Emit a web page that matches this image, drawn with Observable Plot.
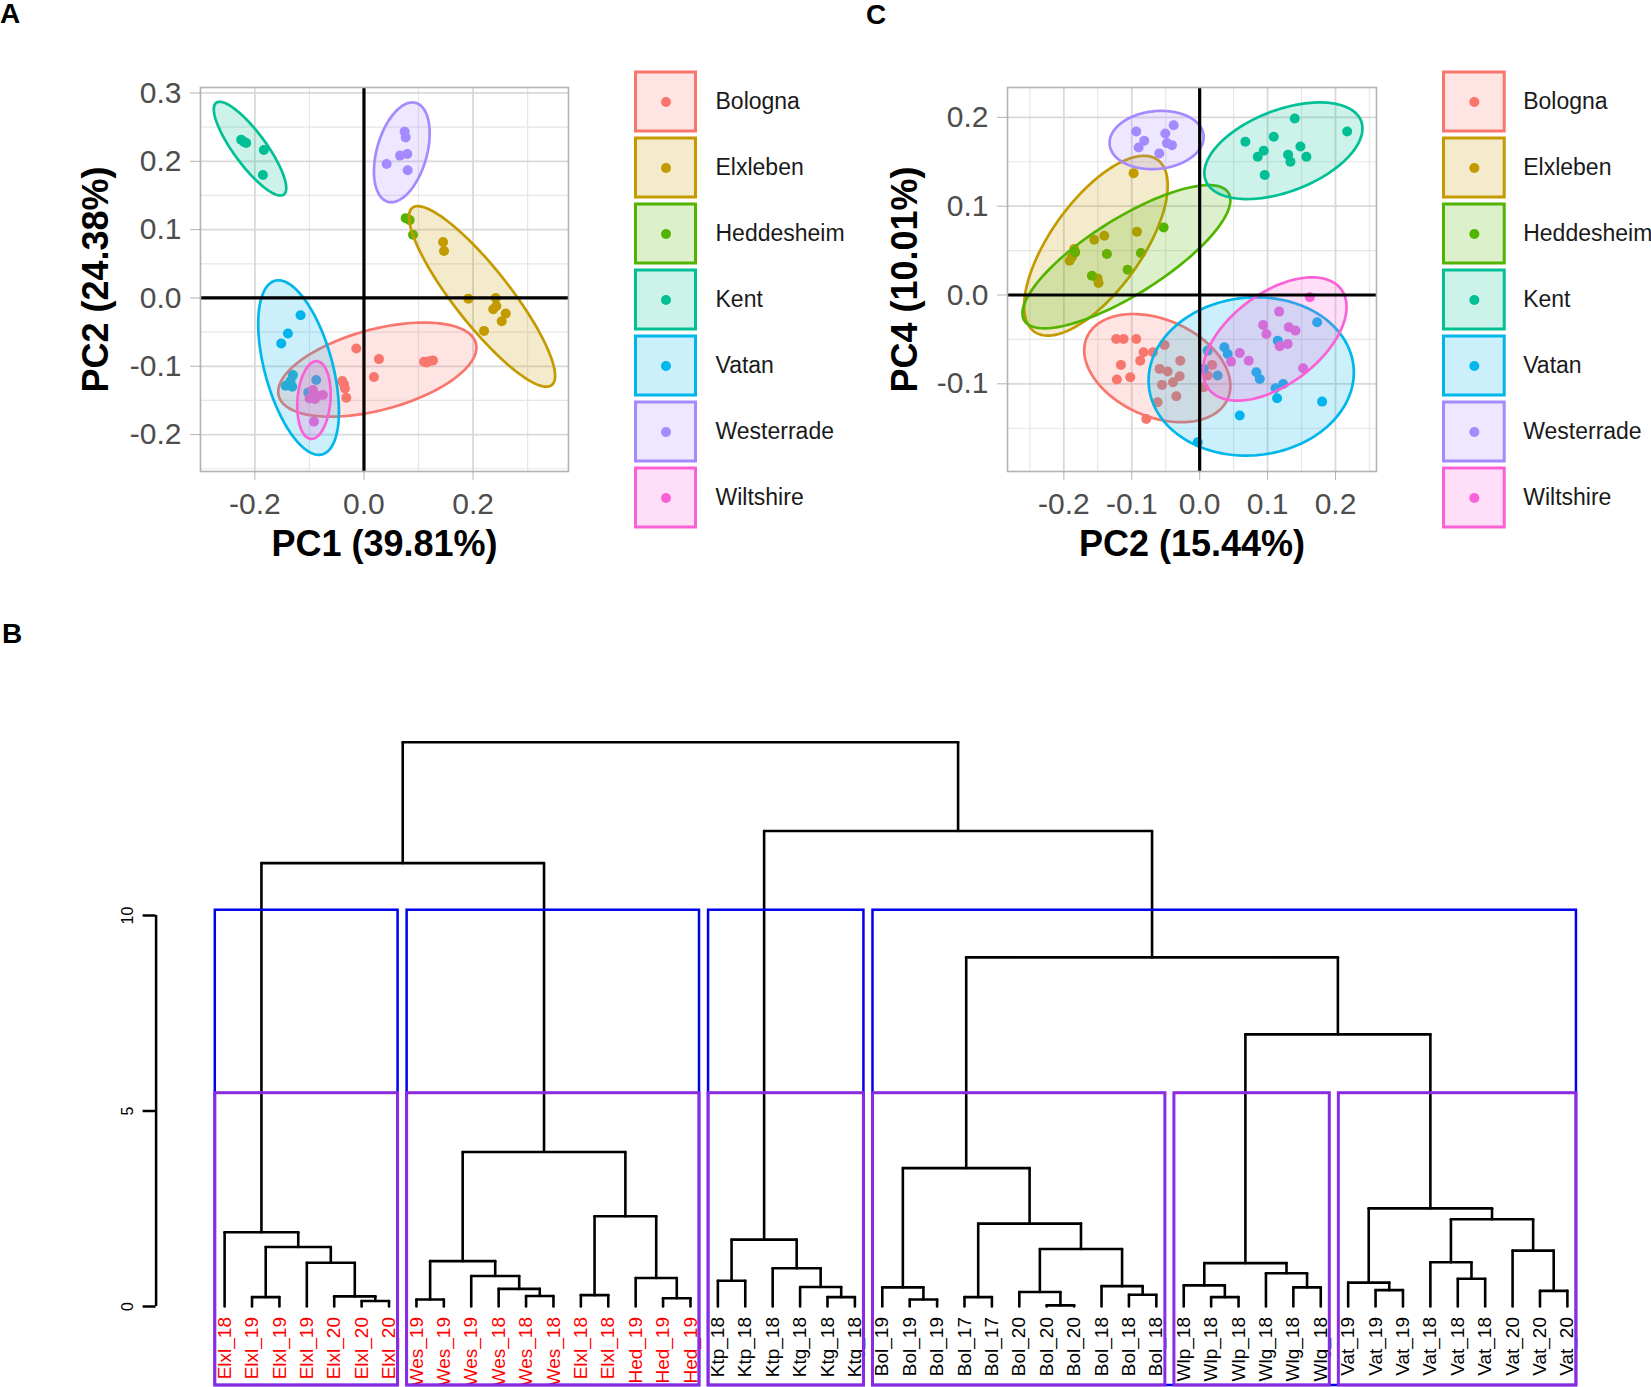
<!DOCTYPE html>
<html>
<head>
<meta charset="utf-8">
<script src="https://cdn.jsdelivr.net/npm/d3@7"></script>
<script src="https://cdn.jsdelivr.net/npm/@observablehq/plot@0.6"></script>
<style>
html,body{margin:0;padding:0;background:#fff;overflow:hidden}
#root{position:relative;width:1651px;height:1387px;font-family:"Liberation Sans",Arial,sans-serif;background:#fff}
.pl{position:absolute}
.panel-label{position:absolute;font-weight:bold;font-size:28px;line-height:28px;color:#000}
</style>
</head>
<body>
<div id="root">
  <div class="panel-label" style="left:0px;top:0px">A</div>
  <div class="panel-label" style="left:866px;top:1px">C</div>
  <div class="panel-label" style="left:2px;top:620px">B</div>
</div>
<script>
// ---------------- DATA ----------------
const groups = ["Bologna","Elxleben","Heddesheim","Kent","Vatan","Westerrade","Wiltshire"];
const groupColors = ["#F8766D","#C49A00","#53B400","#00C094","#00B6EB","#A58AFF","#FB61D7"];

// Panel A: PC1 vs PC2
const A_Bologna = [[-0.0141,-0.0740],[0.0275,-0.0895],[0.0183,-0.1158],[0.1101,-0.0934],[0.1193,-0.0925],[0.1266,-0.0915],[0.1150,-0.0945],[-0.0398,-0.1217],[-0.0349,-0.1324],[-0.0324,-0.1460],[-0.0367,-0.1265]];
const A_Elxleben = [[0.1450,0.0818],[0.1468,0.0686],[0.1914,-0.0010],[0.2416,0.0000],[0.2428,-0.0117],[0.2599,-0.0229],[0.2526,-0.0341],[0.2202,-0.0482],[0.2370,-0.0165]];
const A_Heddesheim = [[0.0765,0.1168],[0.0838,0.1139],[0.0899,0.0925]];
const A_Kent = [[-0.2251,0.2316],[-0.2202,0.2287],[-0.2159,0.2268],[-0.1835,0.2165],[-0.1853,0.1800]];
const A_Vatan = [[-0.1162,-0.0253],[-0.1394,-0.0521],[-0.1517,-0.0667],[-0.1303,-0.1129],[-0.1346,-0.1217],[-0.1437,-0.1285],[-0.1315,-0.1299],[-0.0875,-0.1202],[-0.1021,-0.1382]];
const A_Westerrade = [[0.0746,0.2433],[0.0765,0.2350],[0.0661,0.2083],[0.0795,0.2107],[0.0416,0.1961],[0.0801,0.1869]];
const A_Wiltshire = [[-0.0997,-0.1470],[-0.0936,-0.1348],[-0.0856,-0.1431],[-0.0752,-0.1421],[-0.0899,-0.1479],[-0.0917,-0.1810]];

// Panel A 95% ellipses: centre, half-extent in x and y, correlation
const ellA_group = ["Bologna","Elxleben","Kent","Vatan","Westerrade","Wiltshire"];
const ellA_cx = [0.0245, 0.2165, -0.2089, -0.1199, 0.0694, -0.0917];
const ellA_cy = [-0.1049, 0.0022, 0.2185, -0.1019, 0.2131, -0.1494];
const ellA_sx = [0.1817, 0.1339, 0.0664, 0.0740, 0.0511, 0.0306];
const ellA_sy = [0.0689, 0.1321, 0.0686, 0.1277, 0.0730, 0.0569];
const ellA_r  = [0.47, -0.88, -0.84, -0.50, 0.38, 0.15];

// Panel C: PC2 vs PC4
const C_Bologna = [[-0.1229,-0.0495],[-0.1120,-0.0495],[-0.0934,-0.0495],[-0.0826,-0.0645],[-0.0688,-0.0645],[-0.0875,-0.0739],[-0.0516,-0.0562],[-0.1160,-0.0787],[-0.1219,-0.0952],[-0.1022,-0.0926],[-0.0590,-0.0832],[-0.0472,-0.0862],[-0.0285,-0.0739],[-0.0295,-0.0915],[-0.0393,-0.0982],[-0.0555,-0.1012],[-0.0344,-0.1140],[-0.0619,-0.1207],[-0.0786,-0.1395],[0.0182,-0.0787],[0.0118,-0.0907],[0.0059,-0.1039]];
const C_Elxleben = [[-0.0973,0.1372],[-0.0924,0.0712],[-0.1553,0.0622],[-0.1405,0.0667],[-0.1848,0.0517],[-0.1882,0.0424],[-0.1916,0.0386],[-0.1504,0.0187],[-0.1489,0.0135]];
const C_Heddesheim = [[-0.0531,0.0761],[-0.0865,0.0472],[-0.1366,0.0461],[-0.1061,0.0285],[-0.1587,0.0217],[-0.1833,0.0480]];
const C_Kent = [[0.0673,0.1725],[0.1091,0.1781],[0.1400,0.1987],[0.2172,0.1841],[0.1484,0.1672],[0.1572,0.1556],[0.1302,0.1579],[0.1337,0.1500],[0.0943,0.1624],[0.0855,0.1556],[0.0958,0.1350]];
const C_Vatan = [[0.0118,-0.0626],[0.0364,-0.0589],[0.0413,-0.0664],[0.0265,-0.0907],[0.0835,-0.0870],[0.0885,-0.0945],[0.1150,-0.0514],[0.1140,-0.1162],[0.1229,-0.1001],[0.1115,-0.1050],[0.1730,-0.0307],[0.1803,-0.1200],[0.0590,-0.1357],[-0.0029,-0.1657],[0.0059,-0.0832]];
const C_Westerrade = [[-0.0934,0.1841],[-0.0816,0.1736],[-0.0899,0.1661],[-0.0506,0.1819],[-0.0383,0.1912],[-0.0482,0.1710],[-0.0408,0.1687],[-0.0595,0.1594]];
const C_Wiltshire = [[0.1622,-0.0026],[0.1170,-0.0187],[0.0934,-0.0337],[0.0983,-0.0439],[0.1312,-0.0364],[0.1410,-0.0401],[0.1179,-0.0577],[0.1297,-0.0551],[0.0590,-0.0652],[0.0722,-0.0739],[0.0462,-0.0750],[0.1523,-0.0825]];

const ellC_group = ["Bologna","Elxleben","Heddesheim","Kent","Vatan","Westerrade","Wiltshire"];
const ellC_cx = [-0.0624, -0.1528, -0.1079, 0.1233, 0.0759, -0.0634, 0.1106];
const ellC_cy = [-0.0823, 0.0555, 0.0431, 0.1624, -0.0917, 0.1745, -0.0495];
const ellC_sx = [0.1076, 0.1057, 0.1531, 0.1164, 0.1511, 0.0693, 0.1057];
const ellC_sy = [0.0609, 0.1012, 0.0806, 0.0544, 0.0891, 0.0328, 0.0694];
const ellC_r  = [-0.33, 0.67, 0.79, 0.46, 0.05, 0.10, 0.52];

// axis ticks
const A_xTicks = [-0.2, 0.0, 0.2];
const A_xMinor = [-0.3, -0.1, 0.1, 0.3];
const A_yTicks = [-0.2, -0.1, 0.0, 0.1, 0.2, 0.3];
const A_yMinor = [-0.25, -0.15, -0.05, 0.05, 0.15, 0.25];
const C_xTicks = [-0.2, -0.1, 0.0, 0.1, 0.2];
const C_xMinor = [-0.25, -0.15, -0.05, 0.05, 0.15, 0.25];
const C_yTicks = [-0.1, 0.0, 0.1, 0.2];
const C_yMinor = [-0.15, -0.05, 0.05, 0.15];
const A_xDomain = [-0.2997, 0.375], A_yDomain = [-0.254, 0.308];
const C_xDomain = [-0.283, 0.2604], C_yDomain = [-0.1987, 0.2336];
const A_xTitle = "PC1 (39.81%)", A_yTitle = "PC2 (24.38%)";
const C_xTitle = "PC2 (15.44%)", C_yTitle = "PC4 (10.01%)";

// Panel B: dendrogram (leaves in plotted order)
const leafLabels = ["Elxl_18","Elxl_19","Elxl_19","Elxl_19","Elxl_20","Elxl_20","Elxl_20",
  "Wes_19","Wes_19","Wes_19","Wes_18","Wes_18","Wes_18","Elxl_18","Elxl_18","Hed_19","Hed_19","Hed_19",
  "Ktp_18","Ktp_18","Ktp_18","Ktg_18","Ktg_18","Ktg_18",
  "Bol_19","Bol_19","Bol_19","Bol_17","Bol_17","Bol_20","Bol_20","Bol_20","Bol_18","Bol_18","Bol_18",
  "Wlp_18","Wlp_18","Wlp_18","Wlg_18","Wlg_18","Wlg_18",
  "Vat_19","Vat_19","Vat_19","Vat_18","Vat_18","Vat_18","Vat_20","Vat_20","Vat_20"];
// merges: negative = leaf (1-based position), positive = earlier merge (1-based)
const merges = [
  [-2,-3],[-6,-7],[-5,2],[-4,3],[1,4],[-1,5],
  [-8,-9],[-12,-13],[-11,8],[-10,9],[7,10],[-14,-15],[-17,-18],[-16,13],[12,14],[11,15],[6,16],
  [-19,-20],[-23,-24],[-22,19],[-21,20],[18,21],
  [-26,-27],[-25,23],[-28,-29],[-31,-32],[-30,26],[-34,-35],[-33,28],[27,29],[25,30],[24,31],
  [-37,-38],[-36,33],[-40,-41],[-39,35],[34,36],
  [-43,-44],[-42,38],[-46,-47],[-45,40],[-49,-50],[-48,42],[41,43],[39,44],
  [37,45],[32,46],[22,47],[17,48]];
const mergeHeights = [
  0.24,0.14,0.26,1.12,1.52,1.90,
  0.18,0.27,0.45,0.78,1.16,0.29,0.21,0.73,2.31,3.95,11.34,
  0.66,0.24,0.50,0.98,1.71,
  0.18,0.49,0.24,0.03,0.37,0.30,0.52,1.47,2.12,3.54,
  0.24,0.54,0.49,0.85,1.11,
  0.42,0.61,0.71,1.13,0.40,1.43,2.23,2.51,
  6.96,8.93,12.16,14.43];
const dendroTicks = [0, 5, 10];
const rectBaseline = -2.02;   // bottom of the plotting region (height units)
const cutK = [4, 6];
const cutColors = ["#0000EE", "#8A2BE2"];

// ---------------- HELPERS ----------------
const colorOf = Object.fromEntries(groups.map((g, i) => [g, groupColors[i]]));
const FONT = "Liberation Sans, Arial, Helvetica, sans-serif";
const baseStyle = {background: "transparent", overflow: "visible", fontFamily: FONT, maxWidth: "none"};

function ellipsePath(cx, cy, sx, sy, r) {
  const n = 160, q = Math.sqrt(1 - r * r);
  return d3.range(n).map(i => {
    const t = 2 * Math.PI * i / n;
    return [cx + sx * Math.cos(t), cy + sy * (r * Math.cos(t) + q * Math.sin(t))];
  });
}

function place(node, left, top) {
  node.classList.add("pl");
  node.style.left = left + "px";
  node.style.top = top + "px";
  document.getElementById("root").appendChild(node);
}

function scatterPanel(cfg) {
  const marks = [
    Plot.gridX({ticks: cfg.xMinor, stroke: "#e6e6e6", strokeOpacity: 1, strokeWidth: 1.2}),
    Plot.gridY({ticks: cfg.yMinor, stroke: "#e6e6e6", strokeOpacity: 1, strokeWidth: 1.2}),
    Plot.gridX({ticks: cfg.xGrid, stroke: "#d9d9d9", strokeOpacity: 1, strokeWidth: 1.8}),
    Plot.gridY({ticks: cfg.yTicks, stroke: "#d9d9d9", strokeOpacity: 1, strokeWidth: 1.8})
  ];
  groups.forEach(g => {
    const pts = cfg.points[g];
    if (pts) marks.push(Plot.dot(pts, {x: d => d[0], y: d => d[1], r: 5, fill: colorOf[g], stroke: null}));
  });
  cfg.ell.group.forEach((g, i) => {
    const path = ellipsePath(cfg.ell.cx[i], cfg.ell.cy[i], cfg.ell.sx[i], cfg.ell.sy[i], cfg.ell.r[i]);
    marks.push(Plot.line(path, {x: d => d[0], y: d => d[1], curve: "linear-closed",
      stroke: colorOf[g], strokeWidth: 2.7, fill: colorOf[g], fillOpacity: 0.2}));
  });
  marks.push(
    Plot.ruleX([0], {stroke: "black", strokeWidth: 3.2}),
    Plot.ruleY([0], {stroke: "black", strokeWidth: 3.2}),
    Plot.frame({stroke: "#b3b3b3", strokeWidth: 1.6}),
    Plot.axisX({ticks: cfg.xTicks, tickFormat: d => d.toFixed(1), fontSize: 30, tickSize: 9,
      tickPadding: 12, stroke: "#b3b3b3", fill: "#4d4d4d", label: null}),
    Plot.axisY({ticks: cfg.yTicks, tickFormat: d => d.toFixed(1), fontSize: 30, tickSize: 10,
      tickPadding: 9, stroke: "#b3b3b3", fill: "#4d4d4d", label: null}),
    Plot.text([cfg.xTitle], {text: d => d, frameAnchor: "bottom", dy: 72.5, fontSize: 36,
      fontWeight: "bold", fill: "black", textAnchor: "middle", lineAnchor: "middle"}),
    Plot.text([cfg.yTitle], {text: d => d, frameAnchor: "left", dx: cfg.yTitleDx, rotate: -90,
      fontSize: 36, fontWeight: "bold", fill: "black", textAnchor: "middle", lineAnchor: "middle"})
  );
  return Plot.plot({
    width: cfg.width, height: cfg.height,
    marginLeft: cfg.marginLeft, marginRight: cfg.marginRight,
    marginTop: cfg.marginTop, marginBottom: cfg.marginBottom,
    x: {domain: cfg.xDomain}, y: {domain: cfg.yDomain},
    style: baseStyle, marks
  });
}

function legendPanel(cfg) {
  return Plot.plot({
    width: cfg.width, height: 480,
    marginLeft: cfg.marginLeft, marginRight: cfg.marginRight, marginTop: 0, marginBottom: 0,
    x: {domain: [0, 1], axis: null},
    y: {type: "band", domain: groups, range: [68.7, 68.7 + 7 * 66], paddingInner: 0.106, paddingOuter: 0.053, axis: null},
    color: {domain: groups, range: groupColors},
    style: baseStyle,
    marks: [
      Plot.barX(groups, {x1: 0, x2: 1, y: d => d, fill: d => d, fillOpacity: 0.2, stroke: d => d, strokeWidth: 3}),
      Plot.dot(groups, {x: 0.5, y: d => d, r: 5, fill: d => d, stroke: null}),
      Plot.text(groups, {x: 1, y: d => d, text: d => d, textAnchor: "start", dx: cfg.textDx, fontSize: 23, fill: "#1a1a1a"})
    ]
  });
}

// ---------------- PANEL A ----------------
place(scatterPanel({
  width: 580, height: 575, marginLeft: 200, marginRight: 12, marginTop: 87, marginBottom: 104,
  xDomain: A_xDomain, yDomain: A_yDomain,
  xTicks: A_xTicks, xGrid: A_xTicks, xMinor: A_xMinor, yTicks: A_yTicks, yMinor: A_yMinor,
  xTitle: A_xTitle, yTitle: A_yTitle, yTitleDx: -104,
  points: {Bologna: A_Bologna, Elxleben: A_Elxleben, Heddesheim: A_Heddesheim, Kent: A_Kent,
           Vatan: A_Vatan, Westerrade: A_Westerrade, Wiltshire: A_Wiltshire},
  ell: {group: ellA_group, cx: ellA_cx, cy: ellA_cy, sx: ellA_sx, sy: ellA_sy, r: ellA_r}
}), 0, 0);
place(legendPanel({width: 240, marginLeft: 15.5, marginRight: 164.5, textDx: 19.5}), 620, 0);

// ---------------- PANEL C ----------------
place(scatterPanel({
  width: 540, height: 575, marginLeft: 167, marginRight: 4, marginTop: 87, marginBottom: 104,
  xDomain: C_xDomain, yDomain: C_yDomain,
  xTicks: C_xTicks, xGrid: C_xTicks, xMinor: C_xMinor, yTicks: C_yTicks, yMinor: C_yMinor,
  xTitle: C_xTitle, yTitle: C_yTitle, yTitleDx: -102,
  points: {Bologna: C_Bologna, Elxleben: C_Elxleben, Heddesheim: C_Heddesheim, Kent: C_Kent,
           Vatan: C_Vatan, Westerrade: C_Westerrade, Wiltshire: C_Wiltshire},
  ell: {group: ellC_group, cx: ellC_cx, cy: ellC_cy, sx: ellC_sx, sy: ellC_sy, r: ellC_r}
}), 840, 0);
place(legendPanel({width: 225, marginLeft: 17.5, marginRight: 146.8, textDx: 18.5}), 1426, 0);

// ---------------- PANEL B: DENDROGRAM ----------------
const nodeX = [];
const segments = [];
function ref(r) { return r < 0 ? {x: -r, h: 0} : {x: nodeX[r - 1], h: mergeHeights[r - 1]}; }
merges.forEach(([a, b], i) => {
  const A = ref(a), B = ref(b), h = mergeHeights[i];
  nodeX[i] = (A.x + B.x) / 2;
  segments.push({x1: A.x, y1: A.h, x2: A.x, y2: h});
  segments.push({x1: A.x, y1: h, x2: B.x, y2: h});
  segments.push({x1: B.x, y1: h, x2: B.x, y2: B.h});
});
function leavesOf(r) { return r < 0 ? [-r] : merges[r - 1].flatMap(leavesOf); }
function cutRects(k) {
  const order = d3.range(merges.length).sort((i, j) => mergeHeights[j] - mergeHeights[i]);
  const top = new Set(order.slice(0, k - 1));
  const clusters = [];
  top.forEach(i => merges[i].forEach(r => { if (r < 0 || !top.has(r - 1)) clusters.push(leavesOf(r)); }));
  const sortedH = order.map(i => mergeHeights[i]);
  const yTop = (sortedH[k - 2] + sortedH[k - 1]) / 2;
  return clusters.map(ls => ({x1: d3.min(ls) - 0.34, x2: d3.max(ls) + 0.33, y1: rectBaseline, y2: yTop}));
}
const redLeaves = new Set(leavesOf(merges[merges.length - 1][0]));
const leafData = leafLabels.map((t, i) => ({pos: i + 1, label: t, red: redLeaves.has(i + 1)}));

const svgTop = 640;
const xMin = -1.5, xMax = 52.5;
const dend = Plot.plot({
  width: 1651, height: 747, marginLeft: 155.6, marginRight: 15.6, marginTop: 0, marginBottom: 0,
  x: {domain: [xMin, xMax], axis: null},
  y: {domain: [0, 10], range: [1306 - svgTop, 915 - svgTop]},
  style: baseStyle,
  marks: [
    Plot.link(segments, {x1: "x1", y1: "y1", x2: "x2", y2: "y2", stroke: "black", strokeWidth: 2.6, strokeLinecap: "round"}),
    Plot.text(leafData.filter(d => d.red), {x: "pos", y: 0, text: "label", rotate: -90, textAnchor: "end", dy: 10.5, fontSize: 19, fill: "#FF0000"}),
    Plot.text(leafData.filter(d => !d.red), {x: "pos", y: 0, text: "label", rotate: -90, textAnchor: "end", dy: 10.5, fontSize: 19, fill: "#000000"}),
    Plot.rect(cutRects(cutK[0]), {x1: "x1", x2: "x2", y1: "y1", y2: "y2", fill: "none", stroke: cutColors[0], strokeWidth: 2.5}),
    Plot.rect(cutRects(cutK[1]), {x1: "x1", x2: "x2", y1: "y1", y2: "y2", fill: "none", stroke: cutColors[1], strokeWidth: 3}),
    Plot.ruleX([xMin], {y1: dendroTicks[0], y2: dendroTicks[dendroTicks.length - 1], stroke: "black", strokeWidth: 2.5}),
    Plot.axisY({ticks: dendroTicks, tickSize: 13, tickPadding: 10, tickRotate: -90, fontSize: 16, stroke: "black", fill: "black", strokeWidth: 2.5, label: null})
  ]
});
place(dend, 0, svgTop);
</script>
</body>
</html>
